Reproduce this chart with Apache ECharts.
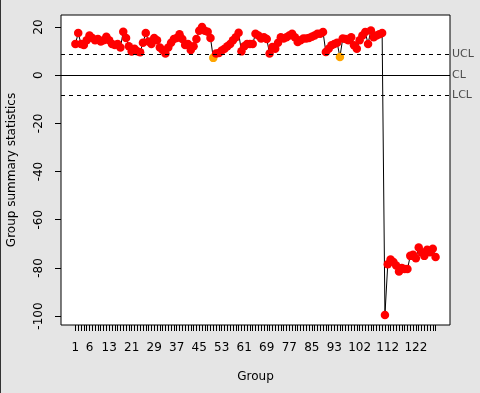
<!DOCTYPE html>
<html><head><meta charset="utf-8">
<script src="https://cdn.jsdelivr.net/npm/echarts@6/dist/echarts.min.js"></script>
<style>html,body{margin:0;padding:0;background:#e5e5e5}#c{width:480px;height:393px}</style>
</head><body><div id="c"></div>
<script>
// Group summary statistics (groups 1..129)
const values = [
  13, 17.5, 13, 12.5, 14.5, 16.5, 15.5, 14.5, 15, 14,
  14.5, 16, 14.5, 13, 12.5, 13, 11.5, 18, 15.5, 12,
  9.8, 11, 10, 9.5, 13.5, 17.5, 14, 13, 15.5, 14.5,
  11.5, 10.5, 9, 11.5, 13.5, 15, 15.5, 17, 15, 12.5,
  13, 10.5, 12, 15, 18.5, 20, 18.5, 18, 15.5, 7.2,
  9, 9.2, 10.3, 11, 12, 13, 14.5, 15.8, 17.6, 9.9,
  12, 13, 13, 13, 17.2, 16.5, 15.2, 15.8, 15, 9,
  11.7, 11, 13.5, 15.8, 15.2, 15.8, 16.5, 17.2, 15.8, 13.8,
  14.5, 15.2, 15.2, 15.5, 16, 16.5, 17.2, 17.2, 17.9, 9.6,
  11, 12.4, 13, 13.5, 7.6, 15.2, 15, 14.5, 15.8, 12.4,
  11, 14.5, 16.5, 17.9, 13, 18.6, 15.8, 16.5, 17, 17.5,
  -99.5, -78.5, -76.5, -77.5, -79, -81.5, -80, -80.5, -80.5, -75,
  -74.5, -76, -71.5, -73.5, -75, -72.5, -73.5, -72, -75.5
];
const xTickLabels = [1, 6, 13, 21, 29, 37, 45, 53, 61, 69, 77, 85, 93, 102, 112, 122];
const yTickValues = [-100, -80, -60, -40, -20, 0, 20];
const centerLine = 0;
const ucl = 8.6;
const lcl = -8.4;
const runViolations = [50, 95];

const groups = values.map((v, i) => i + 1);
const n = groups.length;
const xPad = 0.04 * (n - 1);
const FONT = 'DejaVu Sans';

const pts = values.map((v, i) => {
  const g = groups[i];
  let col = '#000';
  if (v > ucl || v < lcl) col = '#ff0000';
  else if (runViolations.includes(g)) col = '#ffa500';
  return { value: [g, v], itemStyle: { color: col, opacity: 1 } };
});

const chart = echarts.init(document.getElementById('c'), null, { renderer: 'canvas' });
chart.setOption({
  animation: false,
  backgroundColor: '#e5e5e5',
  grid: { left: 61, right: 30, top: 15, bottom: 68, show: true, backgroundColor: '#fff', borderColor: '#000', borderWidth: 1,
          containLabel: false, outerBoundsMode: 'none' },
  xAxis: {
    type: 'value', min: 1 - xPad, max: n + xPad,
    name: 'Group', nameLocation: 'middle', nameGap: 46,
    nameTextStyle: { fontFamily: FONT, fontSize: 12, color: '#000' },
    axisLine: { show: false, onZero: false },
    splitLine: { show: false },
    axisTick: { show: true, length: 6, lineStyle: { color: '#000' }, customValues: groups },
    axisLabel: { fontFamily: FONT, fontSize: 12, color: '#000', margin: 17, customValues: xTickLabels }
  },
  yAxis: {
    type: 'value', min: -103.7, max: 25,
    name: 'Group summary statistics', nameLocation: 'middle', nameGap: 43, nameRotate: 90,
    nameTextStyle: { fontFamily: FONT, fontSize: 12, color: '#000' },
    axisLine: { show: false, onZero: false },
    splitLine: { show: false },
    axisTick: { show: true, length: 6, lineStyle: { color: '#000' }, customValues: yTickValues },
    axisLabel: { fontFamily: FONT, fontSize: 12, color: '#000', rotate: 90, margin: 16, customValues: yTickValues }
  },
  series: [
    {
      type: 'line', data: groups.map((g, i) => [g, values[i]]), showSymbol: false,
      lineStyle: { color: '#000', width: 1 }, z: 2, silent: true,
      markLine: {
        silent: true, symbol: 'none',
        label: { show: true, position: 'end', distance: 2, fontFamily: FONT, fontSize: 11, color: '#4d4d4d' },
        data: [
          { yAxis: centerLine, lineStyle: { type: 'solid', color: '#000', width: 1 }, label: { formatter: 'CL' } },
          { yAxis: ucl, lineStyle: { type: [4, 4], color: '#000', width: 1 }, label: { formatter: 'UCL' } },
          { yAxis: lcl, lineStyle: { type: [4, 4], color: '#000', width: 1 }, label: { formatter: 'LCL' } }
        ]
      }
    },
    {
      type: 'scatter', data: pts, symbol: 'circle', symbolSize: 8.5, z: 3, silent: true,
      itemStyle: { opacity: 1 }
    }
  ],
  graphic: [{ type: 'rect', shape: { x: 0, y: 0, width: 1, height: 393 }, style: { fill: '#333' } }]
});
</script></body></html>
